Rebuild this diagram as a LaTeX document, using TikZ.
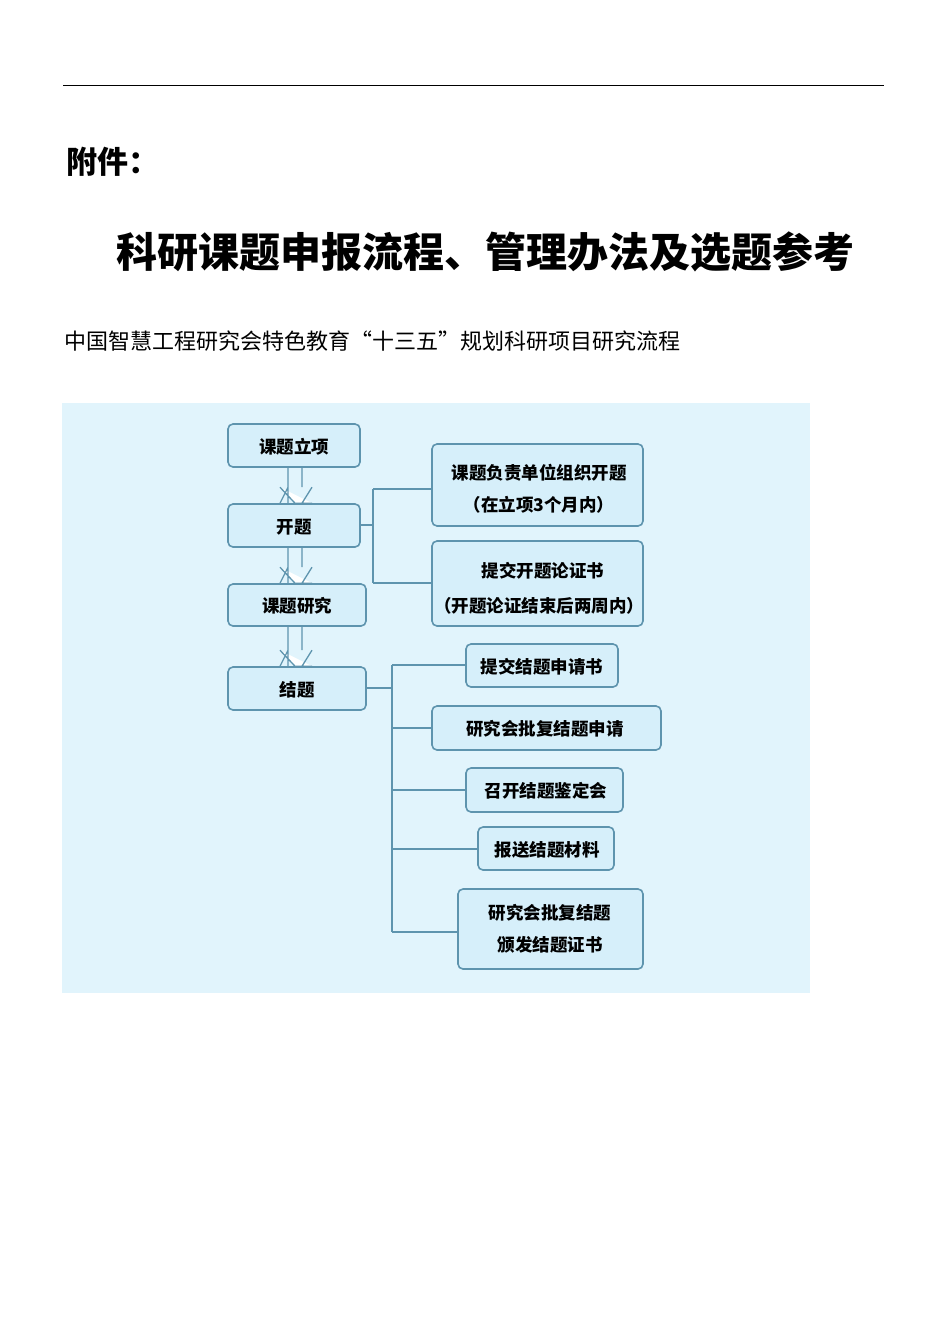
\documentclass[tikz,border=0pt]{standalone}
\usepackage{fontspec}
\setmainfont{Noto Sans CJK SC}
\begin{document}
\begin{tikzpicture}[x=1pt,y=-1pt,
 bx/.style={draw=boxline,line width=1.6pt,fill=boxfill,rounded corners=5pt},
 tx/.style={font=\fontsize{17.5}{22}\selectfont\bfseries,align=center},
 ln/.style={draw=boxline,line width=1.4pt},
 harrow/.style={draw=boxline,line width=1.3pt,fill=white,line join=miter}]
\definecolor{boxline}{HTML}{5E94AE}
\definecolor{boxfill}{HTML}{D6EFFA}
\definecolor{bg}{HTML}{E1F4FC}
\useasboundingbox (0,0) rectangle (950,1344);
\draw[line width=1pt] (63,85) -- (884,85);
\node[anchor=west,font=\fontsize{31}{36}\selectfont\bfseries] (fj) at (63,162) {附件：};
\node[font=\fontsize{41}{48}\selectfont\bfseries] (tt) at (485,252) {科研课题申报流程、管理办法及选题参考};
\node[anchor=west,font=\fontsize{22}{26}\selectfont] (st) at (61,341) {中国智慧工程研究会特色教育“十三五”规划科研项目研究流程};
\fill[bg] (62,403) rectangle (810,993);
\newcommand{\bxat}[5]{\node[bx,minimum width=#3-#2,minimum height=#5-#4] (#1) at ({(#2+#3)/2},{(#4+#5)/2}) {};}
\bxat{a}{228}{360}{424}{467}
\bxat{b}{228}{360}{504}{547}
\bxat{c}{228}{366}{584}{626}
\bxat{d}{228}{366}{667}{710}
\bxat{e}{432}{643}{444}{526}
\bxat{f}{432}{643}{541}{626}
\bxat{g}{466}{618}{644}{687}
\bxat{h}{432}{661}{706}{750}
\bxat{i}{466}{623}{768}{812}
\bxat{j}{478}{614}{827}{870}
\bxat{k}{458}{643}{889}{969}
\node[tx] at (294,447) {课题立项};
\node[tx] at (294,527) {开题};
\node[tx] at (297,606) {课题研究};
\node[tx] at (297,690) {结题};
\node[tx,font=\fontsize{17.5}{32}\selectfont\bfseries] at (539,489) {课题负责单位组织开题\\（在立项3个月内）};
\node[tx,font=\fontsize{17.5}{35}\selectfont\bfseries] at (539,588) {\hspace*{8pt}提交开题论证书\\（开题论证结束后两周内）};
\node[tx] at (542,667) {提交结题申请书};
\node[tx] at (545,729) {研究会批复结题申请};
\node[tx] at (546,791) {召开结题鉴定会};
\node[tx] at (547,850) {报送结题材料};
\node[tx,font=\fontsize{17.5}{32}\selectfont\bfseries] at (550,929) {研究会批复结题\\颁发结题证书};
% hollow arrows
\foreach \s/\t in {a/b,b/c,c/d}{
 \path (\s.south) coordinate (p) (\t.north) coordinate (q);
 \draw[harrow] (288,0 |- p) -- (288,0 |- q) ++(0,-16) -- (280,0 |- q) ++(0,-16) -- (295,0 |- q) -- (312,0 |- q) ++(0,-16) -- (302,0 |- q) ++(0,-16) -- (302,0 |- p);
}
% connectors
\coordinate (j1) at (373,525);
\draw[ln] (b.east |- j1) -- (j1);
\draw[ln] (373,489) -- (373,583);
\draw[ln] (373,489) -- (e.west |- 0,489);
\draw[ln] (373,583) -- (f.west |- 0,583);
\coordinate (j2) at (392,688);
\draw[ln] (d.east |- j2) -- (j2);
\draw[ln] (392,665) -- (392,932);
\draw[ln] (392,665) -- (g.west |- 0,665);
\draw[ln] (392,728) -- (h.west |- 0,728);
\draw[ln] (392,790) -- (i.west |- 0,790);
\draw[ln] (392,849) -- (j.west |- 0,849);
\draw[ln] (392,932) -- (k.west |- 0,932);
\end{tikzpicture}
\end{document}
